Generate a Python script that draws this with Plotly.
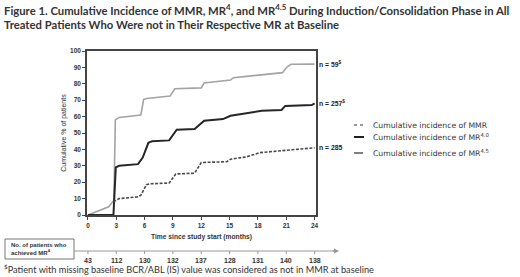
import plotly.graph_objects as go

# ---------------- data ----------------
mmr_x = [0, 2.2, 2.75, 2.9, 3.3, 5.6, 5.9, 6.2, 8.7, 9.2, 12.0, 12.3, 15.1, 15.4, 20.6, 21.1, 21.5, 24]
mmr_y = [0, 5, 9, 58, 59.5, 61, 70.5, 71, 72.5, 77, 77.5, 80.5, 82.3, 83.7, 86.8, 90.4, 91.9, 92]

mr4_x = [0, 2.7, 2.95, 3.3, 5.3, 5.8, 6.4, 6.8, 8.6, 9.4, 11.3, 11.8, 12.3, 14.3, 15.1, 16.1, 17.2, 18.4, 20.5, 20.9, 23.7, 24]
mr4_y = [0, 0, 29, 30, 31, 35, 44, 45, 45.5, 52, 52.5, 55, 57.5, 58.5, 60.5, 61.5, 62.5, 63.5, 64, 66.5, 67, 68]

mr45_x = [2.7, 3.3, 5.2, 5.6, 6.2, 6.5, 8.6, 9.3, 11.3, 12.0, 14.7, 15.1, 16.8, 18.2, 20.1, 22.2, 24]
mr45_y = [8, 10, 11, 12, 18.5, 19, 19.5, 25, 25.5, 32, 32.5, 34, 35.5, 38, 39, 40.2, 41]

n_labels = ["n = 59<sup>$</sup>", "n = 257<sup>$</sup>", "n = 285"]

legend_names = ["Cumulative incidence of MMR",
                "Cumulative incidence of MR<sup>4.0</sup>",
                "Cumulative incidence of MR<sup>4.5</sup>"]

x_ticks = [0, 3, 6, 9, 12, 15, 18, 21, 24]
y_ticks = [0, 10, 20, 30, 40, 50, 60, 70, 80, 90, 100]

risk_months = [0, 3, 6, 9, 12, 15, 18, 21, 24]
risk_counts = [43, 112, 130, 132, 137, 128, 131, 140, 138]

title_text = ("Figure 1. Cumulative Incidence of MMR, MR<sup>4</sup>, and MR<sup>4.5</sup> During Induction/Consolidation Phase in All"
              "<br>Treated Patients Who Were not in Their Respective MR at Baseline")
footnote = "<sup>$</sup>Patient with missing baseline BCR/ABL (IS) value was considered as not in MMR at baseline"
risk_box_text = "No. of patients who<br>achieved MR<sup>4</sup>"

# ---------------- figure ----------------
fig = go.Figure()
fig.add_trace(go.Scatter(x=mmr_x, y=mmr_y, mode="lines", line=dict(color="#a3a3a3", width=1.6),
                         showlegend=False, hoverinfo="skip"))
fig.add_trace(go.Scatter(x=mr4_x, y=mr4_y, mode="lines", line=dict(color="#262626", width=2),
                         showlegend=False, hoverinfo="skip"))
fig.add_trace(go.Scatter(x=mr45_x, y=mr45_y, mode="lines", line=dict(color="#4a4a4a", width=1.6, dash="3px,1.5px"),
                         showlegend=False, hoverinfo="skip"))

W, H = 520, 277
L, R, T, B = 87, 316, 51, 215   # plot area pixel bounds


def px(p):
    return (p - L) / (R - L)


def py(p):
    return (B - p) / (B - T)


ends = [mmr_y[-1], mr4_y[-1], mr45_y[-1]]
ann = []
for lab, yv in zip(n_labels, ends):
    ann.append(dict(x=24, y=yv, xref="x", yref="y", text=lab, showarrow=False, xanchor="left",
                    xshift=2, yanchor="middle",
                    font=dict(family="Liberation Sans", size=6.8, color="#222", weight="bold")))

ann.append(dict(x=px(2), y=py(0), xref="paper", yref="paper", text=title_text, showarrow=False,
                xanchor="left", yanchor="top", align="left",
                font=dict(family="Lato", size=11.3, color="#333", weight="bold")))
ann.append(dict(x=px(2), y=py(276.5), xref="paper", yref="paper", text=footnote, showarrow=False,
                xanchor="left", yanchor="bottom", align="left",
                font=dict(family="Lato", size=9.2, color="#333")))
ann.append(dict(x=px(9), y=py(249), xref="paper", yref="paper", text=risk_box_text, showarrow=False,
                xanchor="left", yanchor="middle", align="left",
                font=dict(family="Liberation Sans", size=6, color="#333", weight="bold")))
for m, c in zip(risk_months, risk_counts):
    ann.append(dict(x=m, y=py(260), xref="x", yref="paper", text=str(c), showarrow=False,
                    xanchor="center", yanchor="middle",
                    font=dict(family="Liberation Sans", size=7, color="#333", weight="bold")))

# legend (drawn manually)
leg_rows = [125, 137, 153]
leg_dash = ["dot", "solid", "dash"]
leg_col = ["#777", "#222", "#555"]
leg_w = [1.3, 2, 1.5]
shapes = []
for name, r, d, c, w in zip(legend_names, leg_rows, leg_dash, leg_col, leg_w):
    shapes.append(dict(type="line", xref="paper", yref="paper", x0=px(354), x1=px(364), y0=py(r), y1=py(r),
                       line=dict(color=c, width=w, dash=d)))
    ann.append(dict(x=px(371), y=py(r), xref="paper", yref="paper", text=name, showarrow=False,
                    xanchor="left", yanchor="middle",
                    font=dict(family="DejaVu Sans", size=7.7, color="#333")))

# number-at-risk box and arrow
shapes.append(dict(type="rect", xref="paper", yref="paper", x0=px(5), x1=px(74), y0=py(239), y1=py(259),
                   line=dict(color="#777", width=1)))
shapes.append(dict(type="line", xref="paper", yref="paper", x0=px(74), x1=px(336), y0=py(251), y1=py(251),
                   line=dict(color="#999", width=1)))
ann.append(dict(x=px(339), y=py(251), ax=-8, ay=0, xref="paper", yref="paper",
                axref="pixel", ayref="pixel", text="", showarrow=True, arrowhead=2, arrowsize=1,
                arrowwidth=1, arrowcolor="#999"))
for m in risk_months:
    shapes.append(dict(type="line", xref="x", yref="paper", x0=m, x1=m, y0=py(251), y1=py(254),
                       line=dict(color="#999", width=1)))

fig.update_layout(
    width=W, height=H,
    margin=dict(l=L, r=W - R, t=T, b=H - B),
    paper_bgcolor="white", plot_bgcolor="white",
    showlegend=False,
    annotations=ann, shapes=shapes,
    xaxis=dict(range=[-0.1, 24.15], tickvals=x_ticks, ticks="outside", ticklen=3, tickwidth=1,
               tickcolor="#444", showline=True, linecolor="#444", linewidth=1.5, mirror=True,
               showgrid=False, zeroline=False,
               tickfont=dict(family="Liberation Sans", size=6.5, color="#333", weight="bold"),
               title=dict(text="Time since study start (months)", standoff=7,
                          font=dict(family="Liberation Sans", size=6.7, color="#333", weight="bold"))),
    yaxis=dict(range=[0, 100], tickvals=y_ticks, ticks="outside", ticklen=3, tickwidth=1,
               tickcolor="#444", showline=True, linecolor="#444", linewidth=1.5, mirror=True,
               showgrid=False, zeroline=False,
               tickfont=dict(family="Liberation Sans", size=6.5, color="#333", weight="bold"),
               title=dict(text="Cumulative % of patients", standoff=3,
                          font=dict(family="Liberation Sans", size=7, color="#333"))),
)

fig.write_html("out.html", config={"displayModeBar": False},
               post_script="document.body.style.margin='0px';")
